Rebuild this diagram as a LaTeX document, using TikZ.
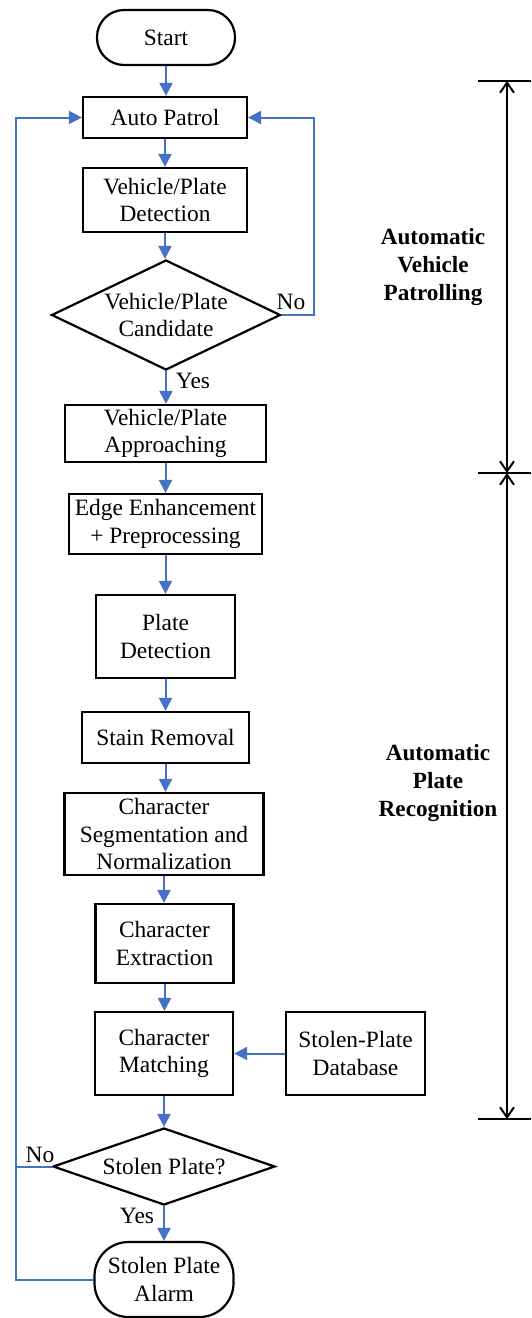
\documentclass[tikz,border=0pt]{standalone}
\usepackage{fontspec}
\setmainfont{Liberation Serif}
\usetikzlibrary{shapes.geometric,arrows.meta}
\definecolor{flowblue}{HTML}{4472C4}
\begin{document}
\begin{tikzpicture}[x=1pt,y=-1pt,
  every node/.style={font=\fontsize{23.4}{27.5}\selectfont, align=center, inner sep=0pt},
  box/.style={draw=black, line width=2.2pt, fill=white, rectangle},
  term/.style={draw=black, line width=2.2pt, fill=white, rectangle},
  dec/.style={draw=black, line width=2.2pt, fill=white, diamond, aspect=2},
  flow/.style={draw=flowblue, line width=2pt, -{Triangle[length=13pt,width=13pt]}},
  plainflow/.style={draw=flowblue, line width=2pt},
  span/.style={draw=black, line width=2pt, {Straight Barb[length=10pt,width=14pt,line width=2pt]}-{Straight Barb[length=10pt,width=14pt,line width=2pt]}},
  tick/.style={draw=black, line width=2pt},
  grp/.style={font=\fontsize{23.2}{28}\selectfont\bfseries, align=center}
]
\useasboundingbox (0,0) rectangle (531,1318);

\node[term, minimum width=138pt, minimum height=55pt, rounded corners=27pt] (start) at (166,37.5) {Start};
\node[box, minimum width=164pt, minimum height=41pt] (patrol) at (165,117.5) {Auto Patrol};
\node[box, minimum width=164pt, minimum height=64pt] (vdet) at (165,200) {Vehicle/Plate\\Detection};
\node[dec, minimum width=229pt, minimum height=110pt] (cand) at (166,315) {Vehicle/Plate\\Candidate};
\node[box, minimum width=201pt, minimum height=57pt] (appr) at (165.5,433.5) {Vehicle/Plate\\Approaching};
\node[box, minimum width=193pt, minimum height=60pt] (edge) at (165.5,524) {Edge Enhancement\\+ Preprocessing};
\node[box, minimum width=139pt, minimum height=83pt] (pdet) at (165.5,636.5) {Plate\\Detection};
\node[box, minimum width=167pt, minimum height=51pt] (stain) at (165.5,737.5) {Stain Removal};
\node[box, minimum width=199pt, minimum height=82pt] (seg) at (164,834) {Character\\Segmentation and\\Normalization};
\node[box, minimum width=138pt, minimum height=79pt] (ext) at (164.5,943.5) {Character\\Extraction};
\node[box, minimum width=138pt, minimum height=83pt] (match) at (164,1053.5) {Character\\Matching};
\node[box, minimum width=139pt, minimum height=83pt] (db) at (355.5,1053.5) {Stolen-Plate\\Database};
\node[dec, aspect=2.9, minimum width=222pt, minimum height=77pt] (stolen) at (164,1166.5) {Stolen Plate?};
\node[term, minimum width=139pt, minimum height=75pt, rounded corners=34pt] (alarm) at (164,1279.5) {Stolen Plate\\Alarm};

% main flow
\draw[flow] (start.south) -- (start.south |- patrol.north);
\draw[flow] (patrol.south) -- (patrol.south |- vdet.north);
\draw[flow] (vdet.south) -- (vdet.south |- cand.north);
\draw[flow] (cand.south) -- (cand.south |- appr.north);
\draw[flow] (appr.south) -- (appr.south |- edge.north);
\draw[flow] (edge.south) -- (edge.south |- pdet.north);
\draw[flow] (pdet.south) -- (pdet.south |- stain.north);
\draw[flow] (stain.south) -- (stain.south |- seg.north);
\draw[flow] (seg.south) -- (seg.south |- ext.north);
\draw[flow] (ext.south) -- (ext.south |- match.north);
\draw[flow] (match.south) -- (match.south |- stolen.north);
\draw[flow] (stolen.south) -- (stolen.south |- alarm.north);
\draw[flow] (db.west) -- (match.east);

% loops
\coordinate (nR) at (314,117.5);
\coordinate (nL) at (16,117.5);
\draw[flow] (cand.east) -| (nR) -- (patrol.east);
\draw[flow] (alarm.west) -| (nL) -- (patrol.west);
\draw[plainflow] (stolen.west) -- (stolen.west -| nL);

% branch labels
\node (no1) at (291,302) {No};
\node (yes1) at (193,381) {Yes};
\node (no2) at (40,1155) {No};
\node (yes2) at (137,1216) {Yes};

% phase brackets
\coordinate (t1) at (507,81);
\coordinate (t2) at (507,473);
\coordinate (t3) at (507,1119);
\coordinate (t1a) at (478,81);   \coordinate (t1b) at (531,81);
\coordinate (t2a) at (478,473);  \coordinate (t2b) at (531,473);
\coordinate (t3a) at (478,1119); \coordinate (t3b) at (531,1119);
\draw[tick] (t1a) -- (t1b);
\draw[tick] (t2a) -- (t2b);
\draw[tick] (t3a) -- (t3b);
\draw[span] (t1) -- (t2);
\draw[span] (t2) -- (t3);
\node[grp] (g1) at (433,267) {Automatic\\Vehicle\\Patrolling};
\node[grp] (g2) at (438,783) {Automatic\\Plate\\Recognition};
\end{tikzpicture}
\end{document}
